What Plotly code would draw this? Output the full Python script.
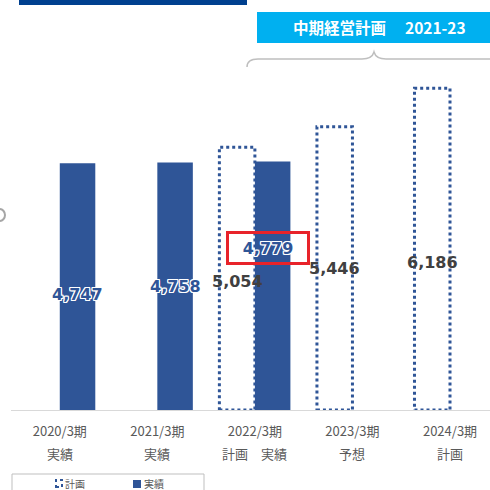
import plotly.graph_objects as go

# ---- data ----
periods = ["2020/3期", "2021/3期", "2022/3期", "2023/3期", "2024/3期"]
status_labels = ["実績", "実績", "計画　実績", "予想", "計画"]
plan_values = [None, None, 5054, 5446, 6186]
actual_values = [4747, 4758, 4779, None, None]
header_text = "中期経営計画　 2021-23"
legend_names = ["計画", "実績"]
highlight_index = 2  # actual value framed in red

# ---- style ----
BLUE = "#2F5597"
GRAY_TXT = "#595959"
JP = "Noto Sans CJK JP"
NUM = "DejaVu Sans"
BW = 0.364  # bar width in category units
W, H = 490, 490
ML, MR, MT, MB = 11, 0, 46, 80
PW, PH = W - ML - MR, H - MT - MB


def fx(px):
    return (px - ML) / PW


def fy(py):
    return (H - MB - py) / PH


idx = list(range(len(periods)))
fig = go.Figure()

fig.add_trace(go.Bar(
    x=idx, y=plan_values, name=legend_names[0], offset=-BW, width=BW,
    marker=dict(color="rgba(255,255,255,0)", line=dict(width=0)),
    showlegend=False, hoverinfo="skip"))
fig.add_trace(go.Bar(
    x=idx, y=actual_values, name=legend_names[1], offset=0, width=BW,
    marker=dict(color=BLUE, line=dict(width=0)),
    showlegend=False, hoverinfo="skip"))

shapes = []
annotations = []

# dotted outlines of plan bars, derived from data
for i, v in zip(idx, plan_values):
    if v is None:
        continue
    shapes.append(dict(type="rect", xref="x", yref="y", x0=i - BW, x1=i, y0=0, y1=v,
                       line=dict(color=BLUE, width=3, dash="dot"),
                       fillcolor="rgba(0,0,0,0)", layer="above"))

outline = "1px 1px 0 #fff, -1px -1px 0 #fff, 1px -1px 0 #fff, -1px 1px 0 #fff, 0 1px 0 #fff, 0 -1px 0 #fff, 1px 0 0 #fff, -1px 0 0 #fff"

# value labels
actual_frac = [0.466, 0.50, 0.65]
for i, v in zip(idx, actual_values):
    if v is None:
        continue
    a = dict(x=i + BW / 2, y=v * actual_frac[i], xref="x", yref="y",
             text=f"{v:,}", showarrow=False, xanchor="center", yanchor="middle",
             font=dict(family=NUM, size=16, color=BLUE, weight="bold", shadow=outline))
    if i == highlight_index:
        a.update(bordercolor="#E8232A", borderwidth=3, borderpad=1,
                 width=76, height=26, xshift=-5)
    annotations.append(a)

plan_frac = [None, None, 0.49, 0.50, 0.46]
for i, v in zip(idx, plan_values):
    if v is None:
        continue
    annotations.append(dict(x=i - BW / 2, y=v * plan_frac[i], xref="x", yref="y",
                            text=f"{v:,}", showarrow=False, xanchor="center", yanchor="middle",
                            font=dict(family=NUM, size=16, color="#404040", weight="bold")))

# second line of category labels
for i, s in zip(idx, status_labels):
    annotations.append(dict(x=i, y=fy(453), xref="x", yref="paper", text=s,
                            showarrow=False, xanchor="center", yanchor="middle",
                            font=dict(family=JP, size=13, color=GRAY_TXT)))

# header decorations
shapes.append(dict(type="rect", xref="paper", yref="paper", x0=fx(19), x1=fx(247),
                   y0=fy(5), y1=fy(-2), fillcolor="#00408F", line=dict(width=0)))
shapes.append(dict(type="rect", xref="paper", yref="paper", x0=fx(257), x1=fx(492),
                   y0=fy(43), y1=fy(12), fillcolor="#00B0F0", line=dict(width=0)))
annotations.append(dict(x=fx(379), y=fy(27), xref="paper", yref="paper", text=header_text,
                        showarrow=False, xanchor="center", yanchor="middle",
                        font=dict(family=JP, size=15.5, color="white", weight="bold")))

# brace
pts = [(247, 67), (247, 59), (258, 59), (362, 59), (372, 59), (374, 52),
       (376, 59), (386, 59), (492, 59)]
P = [(fx(a), fy(b)) for a, b in pts]
path = (f"M {P[0][0]},{P[0][1]} Q {P[1][0]},{P[1][1]} {P[2][0]},{P[2][1]} "
        f"L {P[3][0]},{P[3][1]} Q {P[4][0]},{P[4][1]} {P[5][0]},{P[5][1]} "
        f"Q {P[6][0]},{P[6][1]} {P[7][0]},{P[7][1]} L {P[8][0]},{P[8][1]}")
shapes.append(dict(type="path", xref="paper", yref="paper", path=path,
                   line=dict(color="#BFBFBF", width=1.5)))

# small gray mark at the left edge
shapes.append(dict(type="circle", xref="paper", yref="paper", x0=fx(-6), x1=fx(5),
                   y0=fy(221), y1=fy(209), line=dict(color="#A6A6A6", width=2),
                   fillcolor="rgba(0,0,0,0)"))

# legend box
shapes.append(dict(type="rect", xref="paper", yref="paper", x0=fx(12), x1=fx(204),
                   y0=fy(495), y1=fy(474), line=dict(color="#BFBFBF", width=1),
                   fillcolor="white"))
shapes.append(dict(type="rect", xref="paper", yref="paper", x0=fx(56), x1=fx(62),
                   y0=fy(487), y1=fy(480), line=dict(color=BLUE, width=2, dash="dot"),
                   fillcolor="rgba(0,0,0,0)"))
shapes.append(dict(type="rect", xref="paper", yref="paper", x0=fx(133), x1=fx(141),
                   y0=fy(488), y1=fy(480), line=dict(width=0), fillcolor=BLUE))
annotations.append(dict(x=fx(63), y=fy(483.5), xref="paper", yref="paper", text=legend_names[0],
                        showarrow=False, xanchor="left", yanchor="middle",
                        font=dict(family=JP, size=10, color=GRAY_TXT)))
annotations.append(dict(x=fx(142), y=fy(483.5), xref="paper", yref="paper", text=legend_names[1],
                        showarrow=False, xanchor="left", yanchor="middle",
                        font=dict(family=JP, size=10, color=GRAY_TXT)))

fig.update_layout(
    width=W, height=H,
    margin=dict(l=ML, r=MR, t=MT, b=MB),
    plot_bgcolor="white", paper_bgcolor="white",
    barmode="overlay",
    shapes=shapes, annotations=annotations,
    showlegend=False,
    xaxis=dict(range=[-0.5, 4.41], tickvals=idx, ticktext=periods,
               showline=True, linecolor="#D9D9D9", linewidth=1,
               showgrid=False, zeroline=False, ticks="",
               ticklabelstandoff=9,
               tickfont=dict(family=JP, size=13, color=GRAY_TXT)),
    yaxis=dict(range=[0, 7000], visible=False, showgrid=False, zeroline=False),
)

fig.write_html("out.html", config={"displayModeBar": False},
               post_script="document.body.style.margin='0';document.body.style.overflow='hidden';")
